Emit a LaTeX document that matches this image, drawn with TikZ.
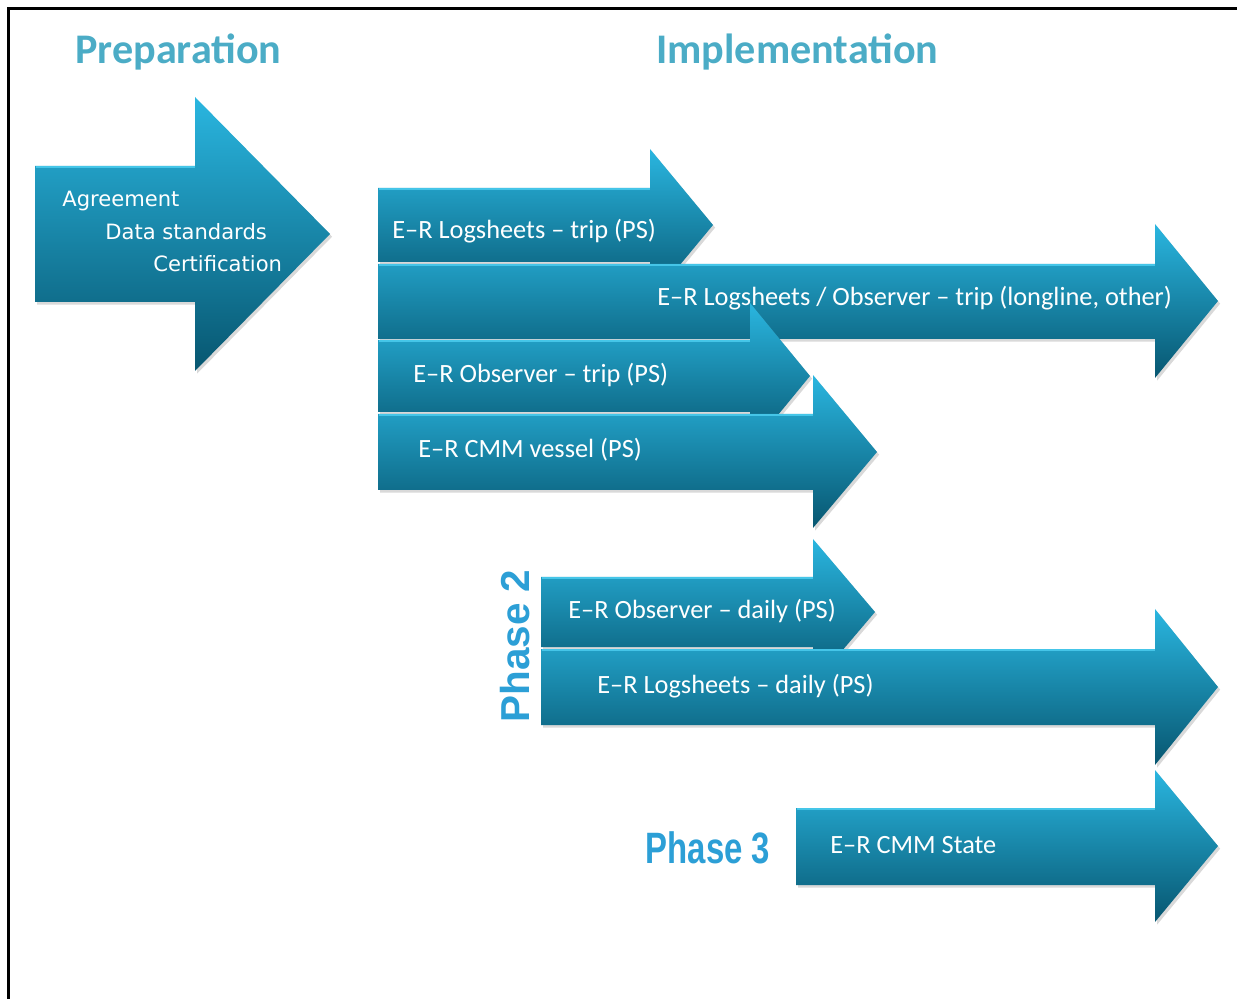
\documentclass[tikz,border=0pt]{standalone}
\usepackage{fontspec}
\setmainfont{Carlito}
\newfontfamily\listfont{DejaVu Sans}
\newfontfamily\phasefont{Liberation Sans}
\usetikzlibrary{positioning, shadows}

\definecolor{titleblue}{HTML}{4BACC6}
\definecolor{arrowtop}{HTML}{2AB6E0}
\definecolor{arrowmid}{HTML}{0F88B0}
\definecolor{arrowbot}{HTML}{075670}
\definecolor{rimcyan}{HTML}{4FD0F2}
\definecolor{phaseblue}{HTML}{2C9FD6}

\begin{document}
\begin{tikzpicture}[x=0.02cm, y=-0.02cm,
    blockarrow/.style={top color=arrowtop, middle color=arrowmid, bottom color=arrowbot,
        drop shadow={opacity=.3, shadow xshift=1.2pt, shadow yshift=-1.5pt}},
    rim/.style={rimcyan, line width=1.1pt, opacity=.8},
    armtext/.style={anchor=west, inner sep=0pt, text=white, font=\fontsize{15}{18}\selectfont},
    preptext/.style={anchor=west, inner sep=0pt, text=white, font=\listfont\fontsize{12}{14}\selectfont},
    headline/.style={anchor=west, inner sep=0pt, text=titleblue, font=\bfseries\fontsize{24}{28}\selectfont},
    phasetext/.style={inner sep=0pt, text=phaseblue, font=\phasefont\bfseries}]
    \useasboundingbox (0,0) rectangle (1237,999);

    % frame
    \draw[line width=1.4pt] (8.5,999) -- (8.5,8.5) -- (1237,8.5);

    % headings
    \node[headline] (prep) at (75,52) {Preparation};
    \node[headline] (impl) at (656,52) {Implementation};

    % preparation arrow
    \path[blockarrow] (35,166) -- (195,166) -- (195,97) -- (330,234) -- (195,371) -- (195,302) -- (35,302) -- cycle;
    \draw[rim] (36,167) -- (195,167);
    \node[preptext] (agree) at (62,201) {Agreement};
    \node[preptext] (datastd) at (105,232) {Data standards};
    \node[preptext] (cert) at (153,264) {Certification};

    % implementation arrows
    \path[blockarrow] (378,188) -- (650,188) -- (650,149) -- (713,225) -- (650,301) -- (650,262) -- (378,262) -- cycle;
    \draw[rim] (379,189) -- (650,189);
    \node[armtext] (lstrip) at (392,231) {E–R Logsheets – trip (PS)};

    \path[blockarrow] (378,264) -- (1155,264) -- (1155,224) -- (1218,301) -- (1155,378) -- (1155,339) -- (378,339) -- cycle;
    \draw[rim] (379,265) -- (1155,265);
    \node[armtext] (lsobs) at (657,298) {E–R Logsheets / Observer – trip (longline, other)};

    \path[blockarrow] (378,340) -- (750,340) -- (750,303) -- (810,376) -- (750,449) -- (750,412) -- (378,412) -- cycle;
    \draw[rim] (379,341) -- (750,341);
    \node[armtext] (obstrip) at (413,375) {E–R Observer – trip (PS)};

    \path[blockarrow] (378,414) -- (813,414) -- (813,375) -- (877,452) -- (813,528) -- (813,490) -- (378,490) -- cycle;
    \draw[rim] (379,415) -- (813,415);
    \node[armtext] (cmmv) at (418,450) {E–R CMM vessel (PS)};

    % phase 2
    \node[phasetext, font=\phasefont\bfseries\fontsize{23}{26}\selectfont, rotate=90] (ph2) at (515,646) {Phase 2};

    \path[blockarrow] (541,577) -- (813,577) -- (813,539) -- (875,612) -- (813,685) -- (813,647) -- (541,647) -- cycle;
    \draw[rim] (542,578) -- (813,578);
    \node[armtext] (obsday) at (568,611) {E–R Observer – daily (PS)};

    \path[blockarrow] (541,649) -- (1155,649) -- (1155,609) -- (1218,687) -- (1155,765) -- (1155,725) -- (541,725) -- cycle;
    \draw[rim] (542,650) -- (1155,650);
    \node[armtext] (lsday) at (597,686) {E–R Logsheets – daily (PS)};

    % phase 3
    \node[phasetext, font=\phasefont\bfseries\fontsize{25}{28}\selectfont, xscale=.75] (ph3) at (708,848) {Phase 3};

    \path[blockarrow] (796,808) -- (1155,808) -- (1155,770) -- (1218,846) -- (1155,922) -- (1155,885) -- (796,885) -- cycle;
    \draw[rim] (797,809) -- (1155,809);
    \node[armtext] (cmmstate) at (830,845) {E–R CMM State};
\end{tikzpicture}
\end{document}
